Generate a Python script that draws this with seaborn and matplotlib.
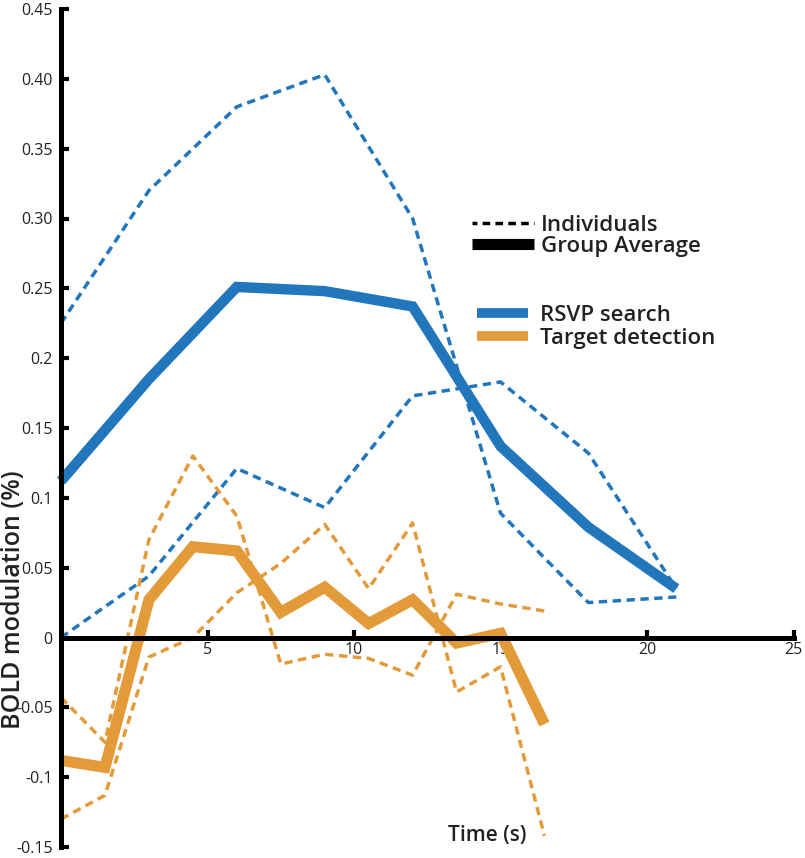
import matplotlib
matplotlib.use("Agg")
import matplotlib.pyplot as plt
from matplotlib.lines import Line2D
import seaborn as sns

# Time axis (s)
t_rsvp = [0, 3, 6, 9, 12, 15, 18, 21]
t_target = [0, 1.5, 3, 4.5, 6, 7.5, 9, 10.5, 12, 13.5, 15, 16.5]

# RSVP search
rsvp_avg = [0.112, 0.185, 0.251, 0.248, 0.237, 0.137, 0.079, 0.035]
rsvp_ind1 = [0.225, 0.320, 0.380, 0.403, 0.300, 0.089, 0.025, 0.029]
rsvp_ind2 = [0.000, 0.044, 0.121, 0.093, 0.173, 0.183, 0.132, 0.035]

# Target detection
target_avg = [-0.088, -0.093, 0.027, 0.065, 0.062, 0.018, 0.036, 0.010,
              0.027, -0.004, 0.003, -0.062]
target_ind1 = [-0.043, -0.075, 0.070, 0.130, 0.087, -0.019, -0.012, -0.015,
               -0.027, 0.031, 0.024, 0.019]
target_ind2 = [-0.130, -0.113, -0.014, 0.000, 0.032, 0.053, 0.081, 0.035,
               0.082, -0.039, -0.021, -0.142]

y_ticks = [-0.15, -0.1, -0.05, 0, 0.05, 0.1, 0.15, 0.2, 0.25, 0.3, 0.35, 0.4, 0.45]
y_tick_labels = ["-0.15", "-0.1", "-0.05", "0", "0.05", "0.1", "0.15", "0.2",
                 "0.25", "0.30", "0.35", "0.40", "0.45"]
x_ticks = [5, 10, 15, 20, 25]

BLUE = "#2176BC"
ORANGE = "#E39B3A"
TEXT = "#222222"

sns.set_theme(style="white")
plt.rcParams["font.family"] = ["Open Sans", "DejaVu Sans"]

fig = plt.figure(figsize=(8.05, 8.58), dpi=100)
ax = fig.add_axes([61 / 805, 1 - 847 / 858, 732.5 / 805, 838 / 858])

dash = (0, (2.4, 1.6))
for vals in (rsvp_ind1, rsvp_ind2):
    sns.lineplot(x=t_rsvp, y=vals, ax=ax, color=BLUE, linewidth=2.5,
                 linestyle=dash, clip_on=False)
for vals in (target_ind1, target_ind2):
    sns.lineplot(x=t_target, y=vals, ax=ax, color=ORANGE, linewidth=2.5,
                 linestyle=dash, clip_on=False)

sns.lineplot(x=t_rsvp, y=rsvp_avg, ax=ax, color=BLUE, linewidth=7.5,
             solid_joinstyle="miter", solid_capstyle="butt", clip_on=False)
sns.lineplot(x=t_target, y=target_avg, ax=ax, color=ORANGE, linewidth=8,
             solid_joinstyle="miter", solid_capstyle="butt", clip_on=False)

ax.set_xlim(0, 25)
ax.set_ylim(-0.15, 0.45)

# Spines: only the y axis at x=0 and the x axis at y=0
for side in ("top", "right"):
    ax.spines[side].set_visible(False)
ax.spines["bottom"].set_position(("data", 0))
for side in ("left", "bottom"):
    ax.spines[side].set_linewidth(3.6)
    ax.spines[side].set_color("black")
    ax.spines[side].set_zorder(5)

ax.set_yticks(y_ticks)
ax.set_yticklabels(y_tick_labels)
ax.set_xticks(x_ticks)
ax.set_xticklabels([str(v) for v in x_ticks])
ax.tick_params(axis="both", direction="in", length=6, width=3, color="black",
               labelsize=11.5, labelcolor=TEXT)
ax.tick_params(axis="y", pad=6, left=True)
ax.tick_params(axis="x", pad=3, bottom=True)
ax.set_xlabel("")
ax.set_ylabel("")

fig.text(14 / 805, 1 - 600 / 858, "BOLD modulation (%)", rotation=90,
         ha="center", va="center", fontsize=18, fontweight="semibold", color=TEXT)
fig.text(487 / 805, 1 - 836 / 858, "Time (s)", ha="center", va="center",
         fontsize=15, fontweight="semibold", color=TEXT)

# Legends
style_handles = [
    Line2D([], [], color="black", linewidth=2.5, linestyle=(0.8, (2.2, 1.5)),
           dash_capstyle="butt"),
    Line2D([], [], color="black", linewidth=8, solid_capstyle="butt"),
]
leg1 = fig.legend(style_handles, ["Individuals", "Group Average"],
                  loc="upper left", bbox_to_anchor=(472 / 805, 1 - 215 / 858),
                  frameon=False, borderpad=0, borderaxespad=0,
                  handlelength=2.8, handletextpad=0.3, labelspacing=0.0,
                  prop={"size": 16, "weight": "semibold"})
cond_handles = [
    Line2D([], [], color=BLUE, linewidth=7, solid_capstyle="butt"),
    Line2D([], [], color=ORANGE, linewidth=7, solid_capstyle="butt"),
]
leg2 = fig.legend(cond_handles, ["RSVP search", "Target detection"],
                  loc="upper left", bbox_to_anchor=(477 / 805, 1 - 305 / 858),
                  frameon=False, borderpad=0, borderaxespad=0,
                  handlelength=2.3, handletextpad=0.55, labelspacing=0.1,
                  prop={"size": 16, "weight": "semibold"})
for leg in (leg1, leg2):
    for txt in leg.get_texts():
        txt.set_color(TEXT)

fig.savefig("out.png", dpi=100)
